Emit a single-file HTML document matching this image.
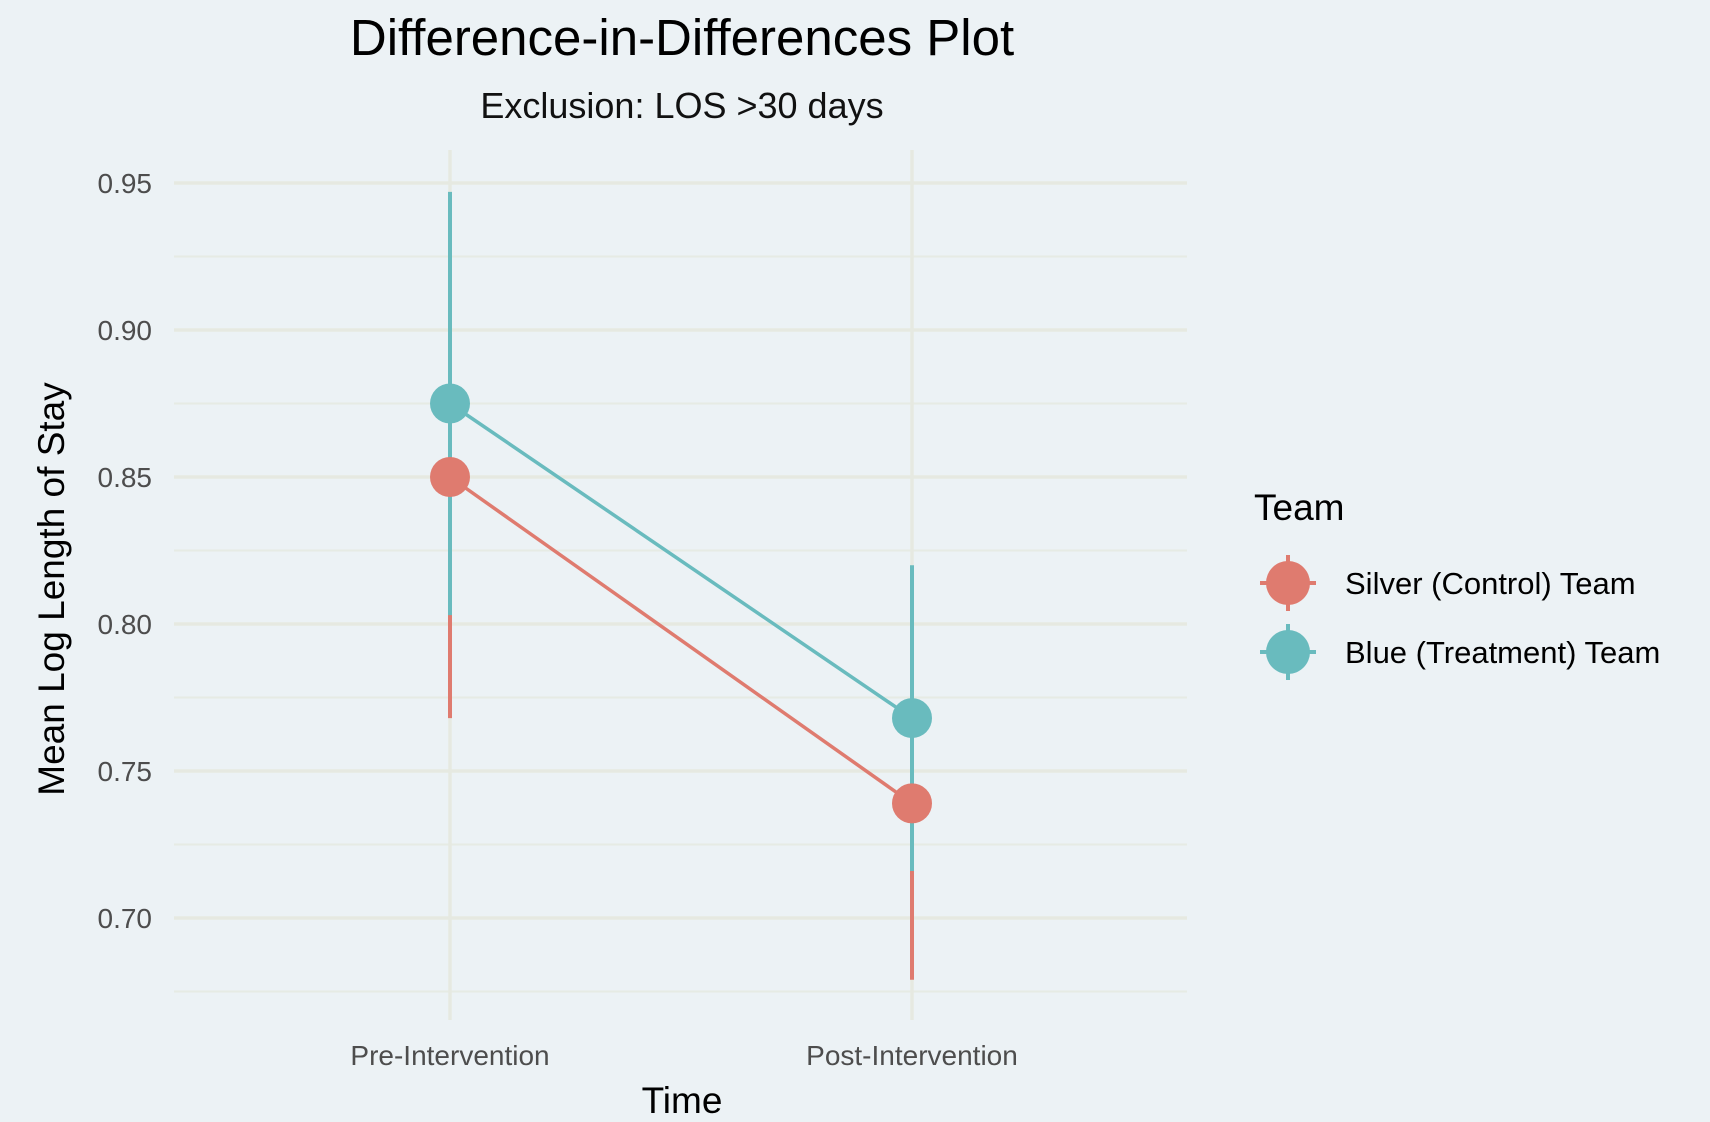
<!DOCTYPE html>
<html><head><meta charset="utf-8"><style>
html,body{margin:0;padding:0;background:#ECF2F5;}
svg{display:block;font-family:"Liberation Sans",sans-serif;}
</style></head><body>
<svg width="1710" height="1122" viewBox="0 0 1710 1122">
<rect width="1710" height="1122" fill="#ECF2F5"/>
<g id="grid"></g>
<g id="marks"></g>
<text x="682" y="55" font-size="51" text-anchor="middle" fill="#000">Difference-in-Differences Plot</text>
<text x="682" y="118" font-size="36" text-anchor="middle" fill="#111">Exclusion: LOS &gt;30 days</text>
<text x="682" y="1113" font-size="37" text-anchor="middle" fill="#000">Time</text>
<text transform="translate(64,589) rotate(-90)" font-size="37" text-anchor="middle" fill="#000">Mean Log Length of Stay</text>
<g id="legend"></g>
</svg>
<script>
const categories = ["Pre-Intervention","Post-Intervention"];
const seriesNames = ["Silver (Control) Team","Blue (Treatment) Team"];
const seriesColors = ["#DF7B6F","#69BBBE"];
const silverMean = [0.850, 0.739];
const silverLow = [0.768, 0.679];
const silverHigh = [0.932, 0.799];
const blueMean = [0.875, 0.768];
const blueLow = [0.803, 0.716];
const blueHigh = [0.947, 0.820];
const yTicks = [0.70,0.75,0.80,0.85,0.90,0.95];
const yTickLabels = ["0.70","0.75","0.80","0.85","0.90","0.95"];
const yMinor = [0.675,0.725,0.775,0.825,0.875,0.925];

const NS="http://www.w3.org/2000/svg";
const L=174,R=1187,T=150,B=1020;
function y(v){return 183+(0.95-v)/0.05*147;}
function x(i){return 450+i*462;}
function mk(tag,attrs,parent){const e=document.createElementNS(NS,tag);for(const k in attrs)e.setAttribute(k,attrs[k]);parent.appendChild(e);return e;}
const grid=document.getElementById('grid'),marks=document.getElementById('marks'),legend=document.getElementById('legend');
yMinor.forEach(v=>{const e=mk('line',{x1:L,x2:R,y1:y(v),y2:y(v),stroke:'#E6EBE4','stroke-width':2},grid);

});
yTicks.forEach((v,i)=>{const e=mk('line',{x1:L,x2:R,y1:y(v),y2:y(v),stroke:'#E6E9E1','stroke-width':3.5},grid);


const t=mk('text',{x:152,y:y(v)+10,'font-size':28,'text-anchor':'end',fill:'#4D4D4D'},grid);t.textContent=yTickLabels[i];

});
categories.forEach((c,i)=>{const e=mk('line',{x1:x(i),x2:x(i),y1:T,y2:B,stroke:'#E6E9E1','stroke-width':3.5},grid);


const t=mk('text',{x:x(i),y:1065,'font-size':28,'text-anchor':'middle',fill:'#4D4D4D'},grid);t.textContent=c;

});
const series=[[silverMean,silverLow,silverHigh],[blueMean,blueLow,blueHigh]];
series.forEach((s,k)=>{const col=seriesColors[k];
for(let i=0;i<categories.length;i++){const e=mk('line',{x1:x(i),x2:x(i),y1:y(s[1][i]),y2:y(s[2][i]),stroke:col,'stroke-width':4},marks);

}
const ln=mk('polyline',{points:s[0].map((v,i)=>x(i)+','+y(v)).join(' '),fill:'none',stroke:col,'stroke-width':3.5},marks);

});
series.forEach((s,k)=>{for(let i=0;i<categories.length;i++){const c=mk('circle',{cx:x(i),cy:y(s[0][i]),r:20,fill:seriesColors[k]},marks);

}});
const lt=mk('text',{x:1254,y:520,'font-size':37,fill:'#000'},legend);lt.textContent='Team';


seriesNames.forEach((n,k)=>{const cy=583+k*69;const g=mk('g',{},legend);


mk('line',{x1:1288,x2:1288,y1:cy-28,y2:cy+28,stroke:seriesColors[k],'stroke-width':4},g);
mk('line',{x1:1260,x2:1316,y1:cy,y2:cy,stroke:seriesColors[k],'stroke-width':4},g);
mk('circle',{cx:1288,cy:cy,r:22,fill:seriesColors[k]},g);
const t=mk('text',{x:1345,y:cy+11,'font-size':31,fill:'#000'},g);t.textContent=n;});
</script>
</body></html>
